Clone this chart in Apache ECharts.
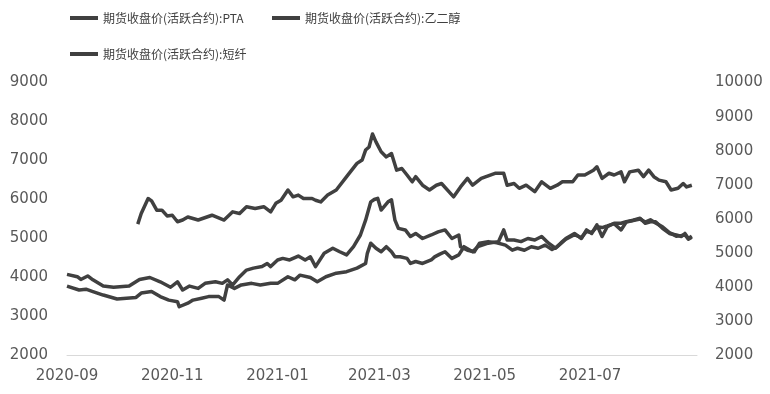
<!DOCTYPE html>
<html>
<head>
<meta charset="utf-8">
<script src="https://cdn.jsdelivr.net/npm/echarts@6/dist/echarts.min.js"></script>
<style>html,body{margin:0;padding:0;background:#fff;}#c{width:770px;height:394px;}</style>
</head>
<body>
<div id="c"></div>
<script>
// Series names
const seriesNames = ['期货收盘价(活跃合约):PTA', '期货收盘价(活跃合约):乙二醇', '期货收盘价(活跃合约):短纤'];
// X axis tick labels (every two months)
const xTickLabels = ['2020-09', '2020-11', '2021-01', '2021-03', '2021-05', '2021-07'];
const xStart = '2020-09-01';
const xEnd = '2021-09-01';
// Left axis ticks
const leftTicks = [2000, 3000, 4000, 5000, 6000, 7000, 8000, 9000];
// Right axis ticks
const rightTicks = [2000, 3000, 4000, 5000, 6000, 7000, 8000, 9000, 10000];

// PTA (left axis)
const ptaDates = ['2020-09-01','2020-09-08','2020-09-12','2020-09-16','2020-09-22','2020-09-30','2020-10-11','2020-10-14','2020-10-20','2020-10-25','2020-10-30','2020-11-04','2020-11-05','2020-11-10','2020-11-13','2020-11-18','2020-11-22','2020-11-28','2020-12-01','2020-12-03','2020-12-07','2020-12-11','2020-12-17','2020-12-22','2020-12-28','2021-01-01','2021-01-07','2021-01-11','2021-01-14','2021-01-20','2021-01-24','2021-01-29','2021-02-04','2021-02-10','2021-02-16','2021-02-21','2021-02-22','2021-02-24','2021-02-27','2021-03-02','2021-03-05','2021-03-08','2021-03-10','2021-03-13','2021-03-17','2021-03-19','2021-03-22','2021-03-26','2021-03-31','2021-04-02','2021-04-05','2021-04-08','2021-04-12','2021-04-16','2021-04-19','2021-04-24','2021-04-27','2021-05-03','2021-05-09','2021-05-12','2021-05-14','2021-05-18','2021-05-22','2021-05-26','2021-05-30','2021-06-03','2021-06-07','2021-06-11','2021-06-15','2021-06-17','2021-06-22','2021-06-26','2021-06-29','2021-07-02','2021-07-05','2021-07-08','2021-07-11','2021-07-15','2021-07-19','2021-07-22','2021-07-26','2021-07-30','2021-08-02','2021-08-05','2021-08-08','2021-08-12','2021-08-16','2021-08-20','2021-08-23','2021-08-25','2021-08-27','2021-08-29'];
const ptaValues = [3780,3680,3700,3640,3550,3450,3490,3600,3640,3510,3420,3380,3250,3340,3420,3470,3510,3510,3420,3810,3720,3810,3850,3810,3850,3850,4020,3940,4060,4000,3890,4020,4110,4150,4240,4360,4620,4880,4750,4660,4790,4660,4530,4530,4490,4360,4410,4360,4450,4530,4600,4660,4490,4580,4790,4660,4790,4880,4920,5220,4960,4960,4920,5000,4960,5050,4880,4750,4920,5000,5130,5000,5220,5130,5350,5050,5300,5390,5390,5430,5470,5520,5390,5430,5430,5260,5130,5090,5050,5130,5000,5060];

// Ethylene glycol (left axis)
const egDates = ['2020-09-01','2020-09-07','2020-09-09','2020-09-13','2020-09-16','2020-09-22','2020-09-28','2020-10-07','2020-10-13','2020-10-19','2020-10-25','2020-10-31','2020-11-04','2020-11-07','2020-11-11','2020-11-16','2020-11-20','2020-11-26','2020-11-30','2020-12-03','2020-12-06','2020-12-10','2020-12-14','2020-12-18','2020-12-23','2020-12-26','2020-12-28','2021-01-01','2021-01-04','2021-01-08','2021-01-13','2021-01-17','2021-01-20','2021-01-23','2021-01-28','2021-02-02','2021-02-06','2021-02-10','2021-02-14','2021-02-18','2021-02-21','2021-02-24','2021-02-26','2021-02-28','2021-03-02','2021-03-06','2021-03-08','2021-03-10','2021-03-12','2021-03-16','2021-03-19','2021-03-22','2021-03-26','2021-03-31','2021-04-04','2021-04-08','2021-04-12','2021-04-16','2021-04-17','2021-04-21','2021-04-25','2021-04-28','2021-05-03','2021-05-08','2021-05-13','2021-05-17','2021-05-20','2021-05-24','2021-05-28','2021-06-01','2021-06-05','2021-06-09','2021-06-12','2021-06-17','2021-06-22','2021-06-26','2021-06-29','2021-07-02','2021-07-05','2021-07-08','2021-07-11','2021-07-15','2021-07-19','2021-07-22','2021-07-26','2021-07-30','2021-08-02','2021-08-05','2021-08-08','2021-08-12','2021-08-16','2021-08-20','2021-08-23','2021-08-25','2021-08-27','2021-08-29'];
const egValues = [4080,4020,3950,4040,3940,3780,3750,3780,3950,4000,3890,3750,3890,3680,3780,3720,3850,3890,3850,3940,3810,4020,4190,4240,4280,4360,4280,4450,4490,4450,4550,4450,4530,4280,4620,4750,4660,4580,4790,5090,5470,5940,6000,6030,5730,5940,5990,5470,5260,5220,5050,5130,5000,5090,5170,5220,5000,5090,4790,4700,4660,4880,4920,4890,4830,4700,4750,4700,4790,4750,4830,4720,4790,4980,5100,5020,5180,5150,5300,5280,5320,5380,5220,5420,5460,5500,5420,5480,5400,5300,5150,5060,5080,5100,4980,5030];

// Staple fibre (right axis)
const pfDates = ['2020-10-12','2020-10-14','2020-10-18','2020-10-20','2020-10-23','2020-10-26','2020-10-29','2020-11-01','2020-11-04','2020-11-07','2020-11-10','2020-11-16','2020-11-24','2020-12-01','2020-12-06','2020-12-10','2020-12-14','2020-12-19','2020-12-24','2020-12-28','2020-12-31','2021-01-03','2021-01-07','2021-01-10','2021-01-13','2021-01-16','2021-01-21','2021-01-23','2021-01-26','2021-01-30','2021-02-04','2021-02-10','2021-02-16','2021-02-19','2021-02-21','2021-02-23','2021-02-25','2021-02-27','2021-03-02','2021-03-05','2021-03-08','2021-03-11','2021-03-14','2021-03-17','2021-03-20','2021-03-22','2021-03-26','2021-03-30','2021-04-03','2021-04-06','2021-04-13','2021-04-17','2021-04-21','2021-04-24','2021-04-29','2021-05-07','2021-05-12','2021-05-14','2021-05-18','2021-05-21','2021-05-25','2021-05-30','2021-06-03','2021-06-08','2021-06-12','2021-06-15','2021-06-21','2021-06-24','2021-06-28','2021-07-03','2021-07-05','2021-07-08','2021-07-12','2021-07-15','2021-07-19','2021-07-21','2021-07-24','2021-07-29','2021-08-01','2021-08-04','2021-08-07','2021-08-10','2021-08-14','2021-08-17','2021-08-21','2021-08-24','2021-08-26','2021-08-29'];
const pfValues = [5850,6160,6600,6530,6260,6260,6090,6110,5920,5970,6060,5970,6110,5970,6210,6160,6360,6310,6360,6210,6460,6550,6850,6650,6700,6600,6600,6550,6500,6700,6850,7240,7630,7730,8020,8110,8490,8260,7970,7820,7920,7430,7480,7290,7090,7240,6990,6850,6990,7040,6650,6940,7190,6990,7190,7340,7340,6990,7040,6900,6990,6800,7090,6900,6990,7090,7090,7290,7290,7430,7530,7190,7340,7290,7380,7090,7380,7430,7240,7430,7240,7140,7090,6850,6900,7040,6940,6990];

const DAY = 86400000;
function toDay(s) {
  const p = s.split('-').map(Number);
  const b = xStart.split('-').map(Number);
  return Math.round((Date.UTC(p[0], p[1] - 1, p[2]) - Date.UTC(b[0], b[1] - 1, b[2])) / DAY);
}
function dayToLabel(d) {
  const b = xStart.split('-').map(Number);
  const dt = new Date(Date.UTC(b[0], b[1] - 1, b[2]) + d * DAY);
  const lab = dt.getUTCFullYear() + '-' + String(dt.getUTCMonth() + 1).padStart(2, '0');
  return (dt.getUTCDate() === 1 && xTickLabels.indexOf(lab) >= 0) ? lab : '';
}
function pairs(dates, vals) { return dates.map((d, i) => [toDay(d), vals[i]]); }

const lineColor = '#404040';
const textColor = '#595959';
const legendTextColor = '#404040';
const axisFont = 'DejaVu Sans';
const cjkFont = 'Noto Sans CJK SC';

const chart = echarts.init(document.getElementById('c'), null, { renderer: 'canvas' });

function legendAt(name, left, top) {
  return {
    data: [name], left: left, top: top, padding: 0, icon: 'rect', itemWidth: 28, itemHeight: 4,
    textStyle: { fontFamily: cjkFont, fontSize: 12, color: legendTextColor, lineHeight: 16 },
    itemStyle: { color: lineColor }
  };
}

chart.setOption({
  animation: false,
  backgroundColor: '#ffffff',
  legend: [
    legendAt(seriesNames[0], 70, 10),
    legendAt(seriesNames[1], 272, 10),
    legendAt(seriesNames[2], 70, 46)
  ],
  grid: { left: 67, right: 73, top: 82.5, bottom: 38.5, containLabel: false },
  xAxis: {
    type: 'value', min: 0, max: toDay(xEnd), interval: 1,
    axisLine: { show: true, lineStyle: { color: '#d9d9d9', width: 1 } },
    axisTick: { show: false }, splitLine: { show: false },
    axisLabel: {
      show: true, margin: 13, fontFamily: axisFont, fontSize: 15, color: textColor,
      formatter: v => dayToLabel(v), showMinLabel: true, showMaxLabel: false, hideOverlap: false
    }
  },
  yAxis: [
    {
      type: 'value', position: 'left', min: leftTicks[0], max: leftTicks[leftTicks.length - 1], interval: 1000,
      axisLine: { show: false }, axisTick: { show: false }, splitLine: { show: false },
      axisLabel: { margin: 19, fontFamily: axisFont, fontSize: 15, color: textColor, formatter: v => String(v) }
    },
    {
      type: 'value', position: 'right', min: rightTicks[0], max: rightTicks[rightTicks.length - 1], interval: 1000,
      axisLine: { show: false }, axisTick: { show: false }, splitLine: { show: false },
      axisLabel: { margin: 18, fontFamily: axisFont, fontSize: 15, color: textColor, formatter: v => String(v) }
    }
  ],
  series: [
    { name: seriesNames[0], type: 'line', yAxisIndex: 0, data: pairs(ptaDates, ptaValues), showSymbol: false, symbol: 'none',
      lineStyle: { color: lineColor, width: 3.5, join: 'round' }, itemStyle: { color: lineColor } },
    { name: seriesNames[1], type: 'line', yAxisIndex: 0, data: pairs(egDates, egValues), showSymbol: false, symbol: 'none',
      lineStyle: { color: lineColor, width: 3.5, join: 'round' }, itemStyle: { color: lineColor } },
    { name: seriesNames[2], type: 'line', yAxisIndex: 1, data: pairs(pfDates, pfValues), showSymbol: false, symbol: 'none',
      lineStyle: { color: lineColor, width: 3.5, join: 'round' }, itemStyle: { color: lineColor } }
  ]
});
</script>
</body>
</html>
